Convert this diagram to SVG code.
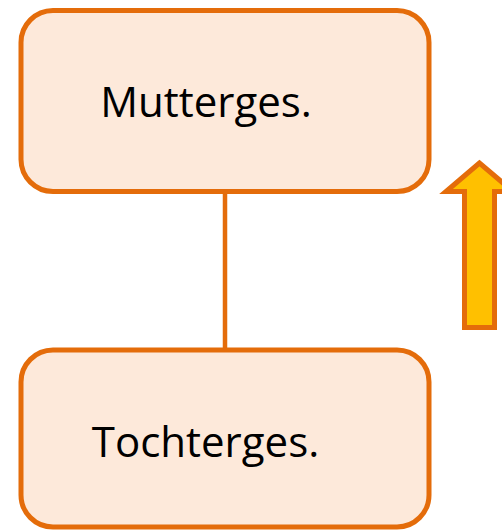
<svg xmlns="http://www.w3.org/2000/svg" width="502" height="530" viewBox="0 0 502 530">
  <style>
    .box { fill: #FDE9DA; stroke: #E46C0A; stroke-width: 5; }
    .label { font-family: "Open Sans", "Liberation Sans", sans-serif; font-size: 42px; fill: #000000; text-anchor: middle; }
    .link { stroke: #E46C0A; stroke-width: 4.5; fill: none; }
    .arrow { fill: #FFC000; stroke: #E46C0A; stroke-width: 5; stroke-linejoin: miter; }
  </style>
  <rect width="502" height="530" fill="#FFFFFF"/>
  <g id="connectors">
    <line class="link" x1="225" y1="192" x2="225" y2="350"/>
  </g>
  <g id="mutterges">
    <rect class="box" x="21" y="10.5" width="408" height="181" rx="32" ry="32"/>
    <text class="label" x="206" y="117">Mutterges.</text>
  </g>
  <g id="tochterges">
    <rect class="box" x="21" y="350" width="408" height="177" rx="32" ry="32"/>
    <text class="label" x="205.5" y="457">Tochterges.</text>
  </g>
  <g id="up-arrow">
    <polygon class="arrow" points="479.5,163 446,191.5 464.5,191.5 464.5,327.5 494.5,327.5 494.5,191.5 513,191.5"/>
  </g>
</svg>
